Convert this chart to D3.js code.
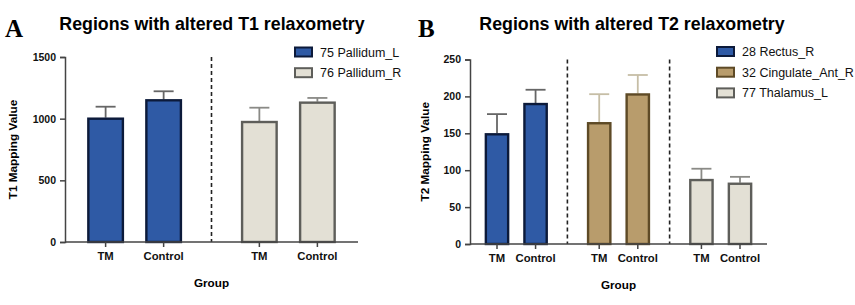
<!DOCTYPE html>
<html>
<head>
<meta charset="utf-8">
<script src="https://cdn.jsdelivr.net/npm/d3@7"></script>
<style>
  body { margin: 0; background: #fff; }
  svg { display: block; font-family: "Liberation Sans", Arial, sans-serif; }
</style>
</head>
<body>
<div id="chart"></div>
<script>
// ---- data ----
const groupLabels = ["TM", "Control"];

// panel A (T1)
const t1Regions = ["75 Pallidum_L", "76 Pallidum_R"];
const t1Means = [[1008, 1157], [981, 1138]];
const t1Errors = [[1097, 1222], [1089, 1168]]; // top of error bars
const t1Ticks = [0, 500, 1000, 1500];

// panel B (T2)
const t2Regions = ["28 Rectus_R", "32 Cingulate_Ant_R", "77 Thalamus_L"];
const t2Means = [[150, 191], [165, 204], [88, 83]];
const t2Errors = [[176, 209], [203, 229], [102, 91]];
const t2Ticks = [0, 50, 100, 150, 200, 250];

// fill, outline, error bar colour per region type
const blue = { fill: "#2f5aa5", stroke: "#0c1a3a", err: "#666" };
const tan = { fill: "#b89c6c", stroke: "#5e4a26", err: "#c6bea6" };
const beige = { fill: "#e3e0d5", stroke: "#5e5e5a", err: "#8a8a86" };

const width = 855, height = 305;
const svg = d3.select("#chart").append("svg")
  .attr("width", width).attr("height", height);

function panel(o) {
  const g = svg.append("g");
  const stride = 2.65, pad = 0.7;
  const n = o.means.length;
  const y = d3.scaleLinear().domain([0, o.max]).range([o.bottom, o.top]);
  const x = d3.scaleLinear()
    .domain([-pad, (n - 1) * stride + 1 + pad])
    .range([o.left, o.right]);
  const unit = x(1) - x(0);
  const bw = unit * 0.63;

  // letter + title
  g.append("text").attr("x", o.letterX).attr("y", 37)
    .attr("font-family", "'Liberation Serif', 'DejaVu Serif', serif")
    .attr("font-weight", "bold").attr("font-size", 25)
    .text(o.letter);
  g.append("text").attr("x", o.titleX).attr("y", 30)
    .attr("text-anchor", "middle").attr("font-weight", "bold")
    .attr("font-size", 17.8).text(o.title);

  // dividers
  for (let k = 1; k < n; k++) {
    const dx = x(k * stride - (stride - 1) / 2);
    g.append("line").attr("x1", dx).attr("x2", dx)
      .attr("y1", o.top).attr("y2", o.bottom)
      .attr("stroke", "#222").attr("stroke-width", 1.6)
      .attr("stroke-dasharray", "4,3");
  }

  // bars
  const bars = [];
  o.means.forEach((vals, k) => vals.forEach((v, i) => {
    bars.push({ k, i, v, e: o.errors[k][i], c: o.colors[k], cx: x(k * stride + i) });
  }));

  g.selectAll(".err").data(bars).join("g").each(function (d) {
    const s = d3.select(this);
    s.append("line").attr("x1", d.cx).attr("x2", d.cx)
      .attr("y1", y(d.v)).attr("y2", y(d.e))
      .attr("stroke", d.c.err).attr("stroke-width", 1.8);
    s.append("line").attr("x1", d.cx - 10).attr("x2", d.cx + 10)
      .attr("y1", y(d.e)).attr("y2", y(d.e))
      .attr("stroke", d.c.err).attr("stroke-width", 1.8);
  });

  g.selectAll(".bar").data(bars).join("rect")
    .attr("x", d => d.cx - bw / 2 + 1)
    .attr("y", d => y(d.v) + 1)
    .attr("width", bw - 2)
    .attr("height", d => y(0) - y(d.v) - 1)
    .attr("fill", d => d.c.fill)
    .attr("stroke", d => d.c.stroke)
    .attr("stroke-width", 2.4);

  // y axis
  const ya = g.append("g").attr("transform", `translate(${o.left},0)`)
    .call(d3.axisLeft(y).tickValues(o.ticks).tickFormat(d3.format("d"))
      .tickSize(5).tickPadding(4));
  ya.select(".domain").attr("stroke", "#444").attr("stroke-width", 1.5);
  ya.selectAll(".tick line").attr("stroke", "#444").attr("stroke-width", 1.5);
  ya.selectAll("text").attr("font-size", 10.5).attr("font-weight", "bold")
    .attr("font-family", "'Liberation Sans', Arial, sans-serif").attr("fill", "#111");

  // x axis (line + ticks at bar centres)
  g.append("line").attr("x1", o.left).attr("x2", o.right)
    .attr("y1", o.bottom).attr("y2", o.bottom)
    .attr("stroke", "#444").attr("stroke-width", 1.5);
  g.selectAll(".xt").data(bars).join("line")
    .attr("x1", d => d.cx).attr("x2", d => d.cx)
    .attr("y1", o.bottom).attr("y2", o.bottom + 5)
    .attr("stroke", "#444").attr("stroke-width", 1.5);
  g.selectAll(".xl").data(bars).join("text")
    .attr("x", d => d.cx).attr("y", o.bottom + 18)
    .attr("text-anchor", "middle").attr("font-size", 11.3)
    .attr("font-weight", "bold").attr("fill", "#111")
    .text(d => groupLabels[d.i]);

  // axis titles
  g.append("text").attr("x", (o.left + o.right) / 2).attr("y", o.bottom + 45)
    .attr("text-anchor", "middle").attr("font-size", 11.7)
    .attr("font-weight", "bold").text("Group");
  g.append("text")
    .attr("transform", `translate(${o.ylabX},${(o.top + o.bottom) / 2}) rotate(-90)`)
    .attr("text-anchor", "middle").attr("font-size", 11.8)
    .attr("font-weight", "bold").text(o.ylab);

  // legend
  const lg = g.selectAll(".lg").data(o.regions).join("g")
    .attr("transform", (d, i) => `translate(${o.legX},${o.legY + i * 20.7})`);
  lg.append("rect").attr("x", 0).attr("y", -4.5).attr("width", 17).attr("height", 9)
    .attr("fill", (d, i) => o.colors[i].fill)
    .attr("stroke", (d, i) => o.colors[i].stroke).attr("stroke-width", 2);
  lg.append("text").attr("x", 25).attr("y", 4.5)
    .attr("font-size", 12.5).attr("fill", "#111").text(d => d);
}

panel({
  letter: "A", letterX: 5, title: "Regions with altered T1 relaxometry", titleX: 212,
  means: t1Means, errors: t1Errors, regions: t1Regions, ticks: t1Ticks, max: 1500,
  colors: [blue, beige], left: 65, right: 358, top: 57, bottom: 242,
  ylab: "T1 Mapping Value", ylabX: 17, legX: 295, legY: 52
});

panel({
  letter: "B", letterX: 418, title: "Regions with altered T2 relaxometry", titleX: 632,
  means: t2Means, errors: t2Errors, regions: t2Regions, ticks: t2Ticks, max: 250,
  colors: [blue, tan, beige], left: 470, right: 767, top: 59.5, bottom: 244,
  ylab: "T2 Mapping Value", ylabX: 429, legX: 717, legY: 51.5
});
</script>
</body>
</html>
